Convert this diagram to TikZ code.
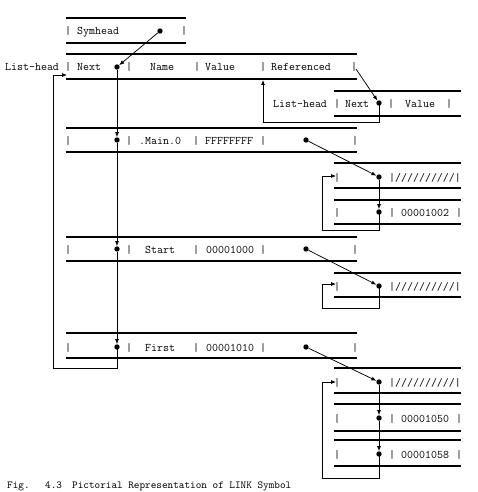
\documentclass[tikz,border=0pt]{standalone}
\usetikzlibrary{arrows.meta}
\tikzset{
  tt/.style={font=\fontsize{11.6}{12}\selectfont\ttfamily, inner sep=0pt, anchor=base west},
  bar/.style={font=\fontsize{11.6}{12}\selectfont\ttfamily, inner sep=0pt, anchor=base},
  captxt/.style={font=\fontsize{10.7}{12}\selectfont\ttfamily, inner sep=0pt, anchor=base west},
  rule/.style={line width=1.1pt},
  link/.style={line width=0.75pt},
  arr/.style={link, -{Latex[length=5pt,width=4pt]}},
  dot/.style={circle, fill, inner sep=0pt, minimum size=5.4pt},
}
\begin{document}
\begin{tikzpicture}[x=1pt,y=-1pt]
\useasboundingbox (0,0) rectangle (477,492);
\fill[white] (0,0) rectangle (477,492);

% ---------- Symhead box ----------
\draw[rule] (66,18) -- (186,18);
\draw[rule] (66,43) -- (186,43);
\node[bar] (sb1) at (68,35) {|};
\node[tt] (symhead) at (77,35) {Symhead};
\node[bar] (sb2) at (184,35) {|};
\node[dot] (S) at (160,31) {};

% ---------- header box ----------
\draw[rule] (66,54) -- (357,54);
\draw[rule] (66,79) -- (357,79);
\node[tt] (lh1) at (5,71) {List-head};
\node[bar] (hb1) at (68,71) {|};
\node[tt] (next1) at (77,71) {Next};
\node[dot] (N) at (117,67) {};
\node[bar] (hb2) at (129,71) {|};
\node[tt] (name) at (150,71) {Name};
\node[bar] (hb3) at (197,71) {|};
\node[tt] (value1) at (205,71) {Value};
\node[bar] (hb4) at (263,71) {|};
\node[tt] (refd) at (271,71) {Referenced};
\node[bar] (hb5) at (354,71) {|};

% ---------- referenced sub-box ----------
\draw[rule] (334,91) -- (461,91);
\draw[rule] (334,116) -- (461,116);
\node[tt] (lh2) at (273,107) {List-head};
\node[bar] (rb1) at (337,107) {|};
\node[tt] (next2) at (345,107) {Next};
\node[dot] (R) at (379,103) {};
\node[bar] (rb2) at (391,107) {|};
\node[tt] (value2) at (405,107) {Value};
\node[bar] (rb3) at (449,107) {|};

% ---------- symbol rows ----------
% .Main.0
\draw[rule] (66,128) -- (357,128);
\draw[rule] (66,152) -- (357,152);
\node[bar] (m1) at (68,144) {|};
\node[dot] (Md) at (117,140) {};
\node[bar] (m2) at (129,144) {|};
\node[tt] (mname) at (139,144) {.Main.0};
\node[bar] (m3) at (196,144) {|};
\node[tt] (mval) at (205,144) {FFFFFFFF};
\node[bar] (m4) at (263,144) {|};
\node[dot] (Mr) at (306,140) {};
\node[bar] (m5) at (355,144) {|};

% Start
\draw[rule] (66,237) -- (357,237);
\draw[rule] (66,261) -- (357,261);
\node[bar] (s1) at (68,253) {|};
\node[dot] (Sd) at (117,249) {};
\node[bar] (s2) at (129,253) {|};
\node[tt] (sname) at (145,253) {Start};
\node[bar] (s3) at (196,253) {|};
\node[tt] (sval) at (206,253) {00001000};
\node[bar] (s4) at (263,253) {|};
\node[dot] (Sr) at (306,249) {};
\node[bar] (s5) at (355,253) {|};

% First
\draw[rule] (66,333) -- (357,333);
\draw[rule] (66,358) -- (357,358);
\node[bar] (f1) at (68,351) {|};
\node[dot] (Fd) at (117,347) {};
\node[bar] (f2) at (129,351) {|};
\node[tt] (fname) at (145,351) {First};
\node[bar] (f3) at (196,351) {|};
\node[tt] (fval) at (206,351) {00001010};
\node[bar] (f4) at (263,351) {|};
\node[dot] (Fr) at (306,347) {};
\node[bar] (f5) at (355,351) {|};

% ---------- reference blocks ----------
% block A (.Main.0)
\draw[rule] (334,163) -- (461,163);
\draw[rule] (334,188) -- (461,188);
\node[bar] (a1) at (337,181) {|};
\node[dot] (A1) at (379,177) {};
\node[tt] (a1v) at (389,181) {|//////////|};
\draw[rule] (334,200) -- (461,200);
\draw[rule] (334,224) -- (461,224);
\node[bar] (a2) at (337,216) {|};
\node[dot] (A2) at (379,212) {};
\node[bar] (a2b) at (392,216) {|};
\node[tt] (a2v) at (401,216) {00001002};
\node[bar] (a2c) at (459,216) {|};

% block B (Start)
\draw[rule] (334,273) -- (461,273);
\draw[rule] (334,297) -- (461,297);
\node[bar] (b1) at (337,290) {|};
\node[dot] (B1) at (379,286) {};
\node[tt] (b1v) at (389,290) {|//////////|};

% block C (First)
\draw[rule] (334,368) -- (461,368);
\draw[rule] (334,393) -- (461,393);
\node[bar] (c1) at (337,386) {|};
\node[dot] (C1) at (379,382) {};
\node[tt] (c1v) at (389,386) {|//////////|};
\draw[rule] (334,404) -- (461,404);
\draw[rule] (334,431) -- (461,431);
\node[bar] (c2) at (337,422) {|};
\node[dot] (C2) at (379,418) {};
\node[bar] (c2b) at (392,422) {|};
\node[tt] (c2v) at (401,422) {00001050};
\node[bar] (c2c) at (459,422) {|};
\draw[rule] (334,440) -- (461,440);
\draw[rule] (334,466) -- (461,466);
\node[bar] (c3) at (337,458) {|};
\node[dot] (C3) at (379,454) {};
\node[bar] (c3b) at (392,458) {|};
\node[tt] (c3v) at (401,458) {00001058};
\node[bar] (c3c) at (459,458) {|};

% ---------- connectors ----------
\draw[arr] (S) -- (N);
\draw[arr] (N) -- (Md);
\draw[arr] (Md) -- (Sd);
\draw[arr] (Sd) -- (Fd);
\coordinate (lp1) at (53,368);
\coordinate (lpend) at (67,75);
\draw[arr] (Fd.center) |- (lp1) |- (lpend);

\coordinate (refsrc) at (356,69);
\draw[arr] (refsrc) -- (R);
\coordinate (rp1) at (263,122);
\coordinate (rpend) at (263,80);
\draw[arr] (R.center) |- (rp1) -- (rpend);

\draw[arr] (Mr) -- (A1);
\draw[arr] (A1) -- (A2);
\coordinate (ap1) at (322,230);
\coordinate (apend) at (336,176);
\draw[arr] (A2.center) |- (ap1) |- (apend);

\draw[arr] (Sr) -- (B1);
\coordinate (bp1) at (322,308);
\coordinate (bpend) at (336,284);
\draw[arr] (B1.center) |- (bp1) |- (bpend);

\draw[arr] (Fr) -- (C1);
\draw[arr] (C1) -- (C2);
\draw[arr] (C2) -- (C3);
\coordinate (cp1) at (322,478);
\coordinate (cpend) at (336,382);
\draw[arr] (C3.center) |- (cp1) |- (cpend);

% ---------- caption ----------
\node[captxt] (fig) at (7,488) {Fig.};
\node[captxt] (fignum) at (45,488) {4.3};
\node[captxt] (figtxt) at (72,488) {Pictorial Representation of LINK Symbol};
\end{tikzpicture}
\end{document}
